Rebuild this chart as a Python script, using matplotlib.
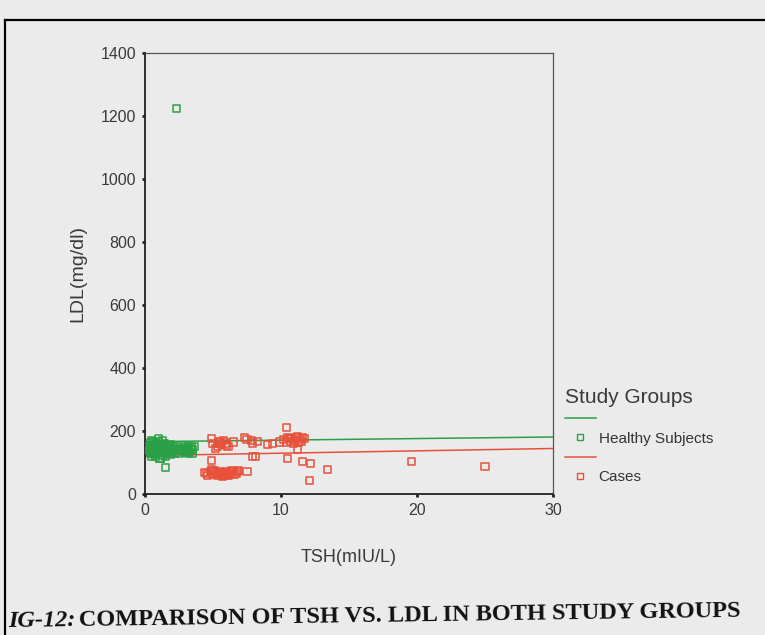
import numpy as np
import matplotlib
matplotlib.use("Agg")
import matplotlib.pyplot as plt
from matplotlib.lines import Line2D

# ---------------- data ----------------
healthy_tsh = [0.2, 0.3, 0.4, 0.4, 0.5, 0.5, 0.6, 0.6, 0.7, 0.7, 0.8, 0.8, 0.9, 0.9,
               1.0, 1.0, 1.1, 1.1, 1.2, 1.2, 1.3, 1.3, 1.4, 1.4, 1.5, 1.6, 1.6, 1.7,
               1.8, 1.9, 2.0, 2.1, 2.2, 2.4, 2.5, 2.7, 2.9, 3.0, 3.1, 3.2, 3.3, 3.4,
               3.5, 0.5, 0.8, 1.0, 1.3, 0.6, 1.1, 1.5, 1.1,
               0.3, 0.4, 0.6, 0.7, 0.9, 1.0, 1.2, 1.4, 1.5, 1.7, 1.8, 2.0, 2.2, 2.3,
               2.6, 2.8, 3.0, 3.2, 3.4, 3.6, 0.5, 0.9, 1.3, 1.6, 1.9, 3.1, 3.5,
               2.3, 1.5]
healthy_ldl = [150, 138, 162, 128, 145, 170, 132, 155, 148, 125, 160, 140, 135, 152,
               165, 128, 142, 158, 132, 150, 145, 122, 138, 160, 148, 130, 152, 140,
               145, 158, 135, 150, 142, 138, 130, 145, 150, 132, 142, 152, 135, 148,
               140, 120, 118, 175, 170, 165, 114, 120, 112,
               142, 132, 140, 158, 144, 150, 138, 148, 138, 150, 132, 145, 128, 152,
               140, 135, 145, 128, 140, 150, 130, 155, 135, 145, 125, 138, 128,
               1225, 84]

cases_tsh = [4.4, 4.6, 4.8, 5.0, 5.1, 5.3, 5.4, 5.5, 5.6, 5.8, 5.9, 6.0, 6.2, 6.3,
             6.5, 6.7, 6.9, 4.9, 5.7, 6.4, 4.5, 5.2, 5.7, 6.1, 6.6, 6.8, 5.0, 6.0,
             4.9, 5.0, 5.3, 5.5, 5.6, 5.9, 6.1, 6.5, 7.3, 7.5, 7.8, 7.9, 8.3, 9.0,
             9.4, 9.9, 5.2, 6.0, 5.4, 5.8,
             10.2, 10.4, 10.5, 10.7, 10.8, 11.0, 11.1, 11.3, 11.4, 11.6, 11.7, 10.9,
             11.2, 11.5, 10.6, 10.4,
             4.9, 7.5, 7.9, 8.1, 10.5, 11.2, 11.6, 12.1, 12.2, 13.4, 19.6, 25.0]
cases_ldl = [68, 60, 72, 62, 75, 58, 65, 70, 60, 66, 58, 72, 62, 68,
             70, 64, 74, 78, 55, 76, 66, 64, 68, 58, 62, 70, 70, 64,
             175, 160, 150, 168, 158, 162, 150, 165, 178, 172, 170, 162, 168, 158,
             160, 165, 145, 155, 162, 170,
             172, 165, 180, 168, 175, 170, 178, 165, 172, 180, 175, 160,
             182, 168, 175, 212,
             105, 72, 118, 120, 114, 140, 102, 44, 98, 79, 102, 86]

group_names = ["Healthy Subjects", "Cases"]
group_colors = ["#2aa046", "#e8503a"]
fit_intercepts = [166, 122]
fit_slopes = [0.5, 0.75]

x_ticks = [0, 10, 20, 30]
y_ticks = [0, 200, 400, 600, 800, 1000, 1200, 1400]

# ---------------- figure ----------------
W, H = 765, 635
bg = "#ebebeb"
fig = plt.figure(figsize=(W / 100, H / 100), dpi=100, facecolor=bg)
plt.rcParams["font.family"] = ["Liberation Sans", "DejaVu Sans"]

ax = fig.add_axes([145 / W, 1 - 494 / H, (553 - 145) / W, (494 - 53) / H], facecolor=bg)

xs = np.array([0, 30])
handles = []
for tsh, ldl, name, col, b0, b1 in zip([healthy_tsh, cases_tsh], [healthy_ldl, cases_ldl],
                                       group_names, group_colors, fit_intercepts, fit_slopes):
    ax.plot(xs, b0 + b1 * xs, color=col, lw=1.1, zorder=2)
    ax.scatter(tsh, ldl, marker="s", s=26, facecolors="none", edgecolors=col,
               linewidths=1.1, zorder=3)
    handles.append(Line2D([], [], color=col, lw=1.1))
    handles.append(Line2D([], [], color=col, lw=0, marker="s", markersize=4.5,
                          markerfacecolor="none", markeredgewidth=1.0))

labels = ["", group_names[0], "", group_names[1]]

ax.set_xlim(0, 30)
ax.set_ylim(0, 1400)
ax.set_xticks(x_ticks)
ax.set_yticks(y_ticks)
ax.tick_params(axis="both", length=2.5, width=2, color="#222222", labelsize=11.5,
               labelcolor="#3a3a3a", pad=4)

for s in ["left", "bottom"]:
    ax.spines[s].set_color("#222222")
    ax.spines[s].set_linewidth(1.3)
for s in ["top", "right"]:
    ax.spines[s].set_color("#555555")
    ax.spines[s].set_linewidth(0.9)

ax.set_xlabel("TSH(mIU/L)", fontsize=13, color="#3a3a3a", labelpad=22)
ax.set_ylabel("LDL(mg/dl)", fontsize=14, color="#3a3a3a", labelpad=10)

leg = ax.legend(handles, labels, title="Study Groups", loc="upper left",
                bbox_to_anchor=(565 / W, 1 - 388 / H), bbox_transform=fig.transFigure,
                frameon=False, fontsize=11, title_fontsize=15, alignment="left",
                handlelength=2.0, handletextpad=0.2, labelspacing=0.35,
                borderpad=0, borderaxespad=0)
for t in leg.get_texts():
    t.set_color("#333333")
leg.get_title().set_color("#3a3a3a")

# page frame (photo border)
fig.add_artist(Line2D([5 / W, 5 / W], [0, 1 - 20 / H], transform=fig.transFigure,
                      color="black", lw=1.6))
fig.add_artist(Line2D([5 / W, 1], [1 - 20 / H, 1 - 20 / H], transform=fig.transFigure,
                      color="black", lw=1.6))

# caption
rot = 0.8
t1 = fig.text(8 / W, 1 - 627 / H, "IG-12:", fontsize=17.5, fontweight="bold",
              fontstyle="italic", family=["Liberation Serif", "DejaVu Serif"],
              rotation=rot, rotation_mode="anchor", ha="left", va="baseline", color="#111111")
fig.canvas.draw()
bb = t1.get_window_extent()
wpx = bb.width
dx = (wpx + 3) * np.cos(np.radians(rot))
dy = (wpx + 3) * np.sin(np.radians(rot))
fig.text((8 + dx) / W, 1 - (627 - dy) / H,
         "COMPARISON OF TSH VS. LDL IN BOTH STUDY GROUPS", fontsize=17.5,
         fontweight="bold", family=["Liberation Serif", "DejaVu Serif"],
         rotation=rot, rotation_mode="anchor", ha="left", va="baseline", color="#111111")

fig.savefig("out.png", dpi=100, facecolor=bg)
